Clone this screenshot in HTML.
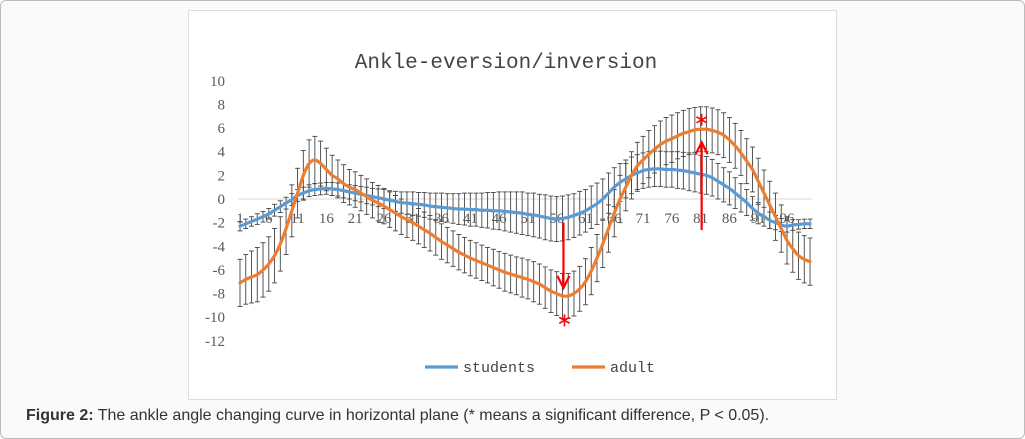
<!DOCTYPE html>
<html><head><meta charset="utf-8">
<style>
body{margin:0;width:1025px;height:439px;background:#fff;overflow:hidden;font-family:"Liberation Sans",sans-serif}
#frame{position:absolute;left:0;top:0;width:1023px;height:437px;border:1px solid #bbb;border-radius:6px;background:#fafafa}
#chartbox{position:absolute;left:188px;top:10px;width:647px;height:388px;background:#fff;border:1px solid #ddd}
#caption{position:absolute;left:26px;top:407px;font-size:16px;color:#333}
</style></head><body>
<div id="frame"></div>
<div id="chartbox"></div>
<svg id="chart" width="1025" height="439" style="position:absolute;left:0;top:0"></svg>
<div id="caption"><b>Figure 2:</b> The ankle angle changing curve in horizontal plane (* means a significant difference, P &lt; 0.05).</div>
<script>
const yTicks=[10,8,6,4,2,0,-2,-4,-6,-8,-10,-12];
const xTickLabels=[1,6,11,16,21,26,31,36,41,46,51,56,61,66,71,76,81,86,91,96];
const studentsMean=[-2.3,-2.1,-1.9,-1.7,-1.5,-1.25,-0.95,-0.65,-0.35,-0.05,
0.3,0.5,0.7,0.8,0.85,0.9,0.85,0.8,0.7,0.6,
0.5,0.4,0.3,0.2,0.1,0,-0.1,-0.2,-0.3,-0.35,
-0.4,-0.45,-0.5,-0.6,-0.65,-0.7,-0.75,-0.8,-0.85,-0.85,
-0.9,-0.9,-0.95,-0.95,-1.0,-1.0,-1.05,-1.1,-1.15,-1.2,
-1.3,-1.35,-1.45,-1.55,-1.65,-1.7,-1.65,-1.55,-1.4,-1.2,
-1.0,-0.7,-0.4,0,0.5,1.0,1.4,1.7,2.0,2.2,
2.4,2.5,2.55,2.55,2.5,2.5,2.45,2.4,2.3,2.2,
2.1,2.0,1.8,1.5,1.2,0.9,0.5,0.1,-0.3,-0.8,
-1.2,-1.5,-1.8,-2.0,-2.2,-2.3,-2.2,-2.15,-2.1,-2.1];
const studentsSD=[0.4,0.4,0.4,0.45,0.45,0.45,0.5,0.5,0.5,0.5,
0.5,0.5,0.5,0.5,0.5,0.5,0.55,0.55,0.6,0.6,
0.65,0.65,0.7,0.7,0.75,0.8,0.8,0.85,0.9,0.95,
1.0,1.0,1.05,1.1,1.15,1.2,1.2,1.25,1.3,1.35,
1.4,1.4,1.45,1.5,1.55,1.6,1.65,1.7,1.75,1.8,
1.8,1.85,1.85,1.9,1.9,1.9,1.9,1.9,1.85,1.85,
1.8,1.8,1.75,1.7,1.7,1.65,1.6,1.6,1.55,1.55,
1.5,1.5,1.5,1.5,1.5,1.5,1.55,1.55,1.6,1.6,
1.6,1.6,1.55,1.5,1.45,1.4,1.3,1.2,1.1,1.0,
0.9,0.8,0.7,0.6,0.55,0.5,0.45,0.4,0.4,0.4];
const adultMean=[-7.1,-6.8,-6.6,-6.4,-6.0,-5.5,-4.8,-3.8,-2.5,-1.0,
0.5,2.0,3.0,3.3,3.0,2.5,2.0,1.7,1.3,1.0,
0.8,0.5,0.2,-0.1,-0.35,-0.6,-0.9,-1.2,-1.5,-1.75,
-2.0,-2.3,-2.6,-2.9,-3.25,-3.6,-3.9,-4.2,-4.5,-4.75,
-5.0,-5.2,-5.4,-5.6,-5.8,-6.0,-6.2,-6.35,-6.5,-6.65,
-6.8,-7.0,-7.2,-7.5,-7.8,-8.0,-8.2,-8.2,-8.0,-7.6,
-7.0,-6.1,-5.0,-3.8,-2.5,-1.2,0.0,1.0,2.0,2.8,
3.3,3.8,4.2,4.6,4.9,5.1,5.35,5.55,5.7,5.85,
5.9,5.9,5.8,5.65,5.4,5.0,4.5,3.9,3.2,2.5,
1.5,0.5,-0.5,-1.5,-2.5,-3.5,-4.2,-4.8,-5.1,-5.3];
const adultSD=[2.0,2.1,2.2,2.3,2.3,2.3,2.3,2.3,2.2,2.2,
2.1,2.1,2.0,2.0,1.9,1.8,1.7,1.6,1.6,1.5,
1.5,1.5,1.5,1.5,1.5,1.5,1.5,1.5,1.5,1.5,
1.5,1.5,1.5,1.5,1.5,1.5,1.5,1.5,1.5,1.5,
1.5,1.5,1.5,1.5,1.55,1.55,1.6,1.6,1.6,1.65,
1.65,1.7,1.7,1.75,1.8,1.85,1.9,1.9,1.9,1.9,
1.95,2.0,2.0,2.0,2.0,2.0,2.0,2.0,2.0,2.0,
2.0,2.0,2.0,2.0,2.0,2.0,1.95,1.95,1.95,1.9,
1.9,1.9,1.9,1.9,1.9,1.9,1.9,1.9,1.9,1.9,
1.95,1.95,2.0,2.0,2.0,2.0,2.0,2.0,2.0,2.0];
const sigPoints=[57,81];

const NS="http://www.w3.org/2000/svg";
const svg=document.getElementById('chart');
function yS(v){return 199-v*11.818;}
function xS(i){return 240+(i-1)*5.758;}
function mk(tag,attrs,parent){const e=document.createElementNS(NS,tag);for(const k in attrs)e.setAttribute(k,attrs[k]);(parent||svg).appendChild(e);return e;}

const t=mk('text',{x:506,y:68,'text-anchor':'middle','font-family':'Liberation Mono, monospace','font-size':21,fill:'#444'});
t.textContent='Ankle-eversion/inversion';


const zl=mk('line',{x1:238,x2:812,y1:yS(0),y2:yS(0),stroke:'#d9d9d9','stroke-width':1});


yTicks.forEach(v=>{const e=mk('text',{x:225,y:yS(v)+5,'text-anchor':'end','font-family':'Liberation Serif, serif','font-size':15,fill:'#595959'});e.textContent=v;

});
function bars(mean,sd,name){const g=mk('g',{stroke:'#444','stroke-width':0.9});


mean.forEach((m,k)=>{const x=xS(k+1),a=yS(m+sd[k]),b=yS(m-sd[k]);
mk('line',{x1:x,x2:x,y1:a,y2:b},g);mk('line',{x1:x-2.5,x2:x+2.5,y1:a,y2:a},g);mk('line',{x1:x-2.5,x2:x+2.5,y1:b,y2:b},g);});}
bars(studentsMean,studentsSD,'students-error-bars');
bars(adultMean,adultSD,'adult-error-bars');
xTickLabels.forEach(v=>{const e=mk('text',{x:xS(v),y:223,'text-anchor':'middle','font-family':'Liberation Serif, serif','font-size':15,fill:'#595959'});e.textContent=v;

});
function path(arr){const p=arr.map((v,k)=>[xS(k+1),yS(v)]);let d='M'+p[0][0]+','+p[0][1];
for(let i=0;i<p.length-1;i++){const p0=p[i-1]||p[i],p1=p[i],p2=p[i+1],p3=p[i+2]||p2;
d+=' C'+(p1[0]+(p2[0]-p0[0])/6)+','+(p1[1]+(p2[1]-p0[1])/6)+' '+(p2[0]-(p3[0]-p1[0])/6)+','+(p2[1]-(p3[1]-p1[1])/6)+' '+p2[0]+','+p2[1];}return d;}
const ls=mk('path',{d:path(studentsMean),fill:'none',stroke:'#5b9bd5','stroke-width':3.2,'stroke-linecap':'round'});


const la=mk('path',{d:path(adultMean),fill:'none',stroke:'#ed7d31','stroke-width':3.2,'stroke-linecap':'round'});


function star(cx,cy){const g=mk('g',{stroke:'#ff0000','stroke-width':1.6});


for(let a=0;a<3;a++){const ang=Math.PI/2+a*Math.PI/3;const dx=6*Math.cos(ang),dy=6*Math.sin(ang);mk('line',{x1:cx-dx,y1:cy-dy,x2:cx+dx,y2:cy+dy},g);}}
sigPoints.forEach(i=>{const x=xS(i)+1;const m=adultMean[i-1],s=studentsMean[i-1];const g=mk('g',{stroke:'#ff0000','stroke-width':2.2,fill:'none'});


if(m<s){const y1=yS(s)+4,y2=yS(m)-8;mk('line',{x1:x,x2:x,y1:y1,y2:y2},g);mk('polyline',{points:(x-6)+','+(y2-12)+' '+x+','+y2+' '+(x+6)+','+(y2-12)},g);
star(x+1,yS(m-adultSD[i-1])+2);}
else{const y1=yS(s)+56,y2=yS(m)+13;mk('line',{x1:x,x2:x,y1:y1,y2:y2},g);mk('polyline',{points:(x-6)+','+(y2+12)+' '+x+','+y2+' '+(x+6)+','+(y2+12)},g);
star(x,yS(m+adultSD[i-1])+13);}});
[['students','#5b9bd5',425],['adult','#ed7d31',572]].forEach(([n,c,x])=>{const g=mk('g',{});


mk('line',{x1:x,x2:x+33,y1:367,y2:367,stroke:c,'stroke-width':3.2},g);
const e=mk('text',{x:x+38,y:372,'font-family':'Liberation Mono, monospace','font-size':15,fill:'#444'},g);e.textContent=n;});
</script>
</body></html>
